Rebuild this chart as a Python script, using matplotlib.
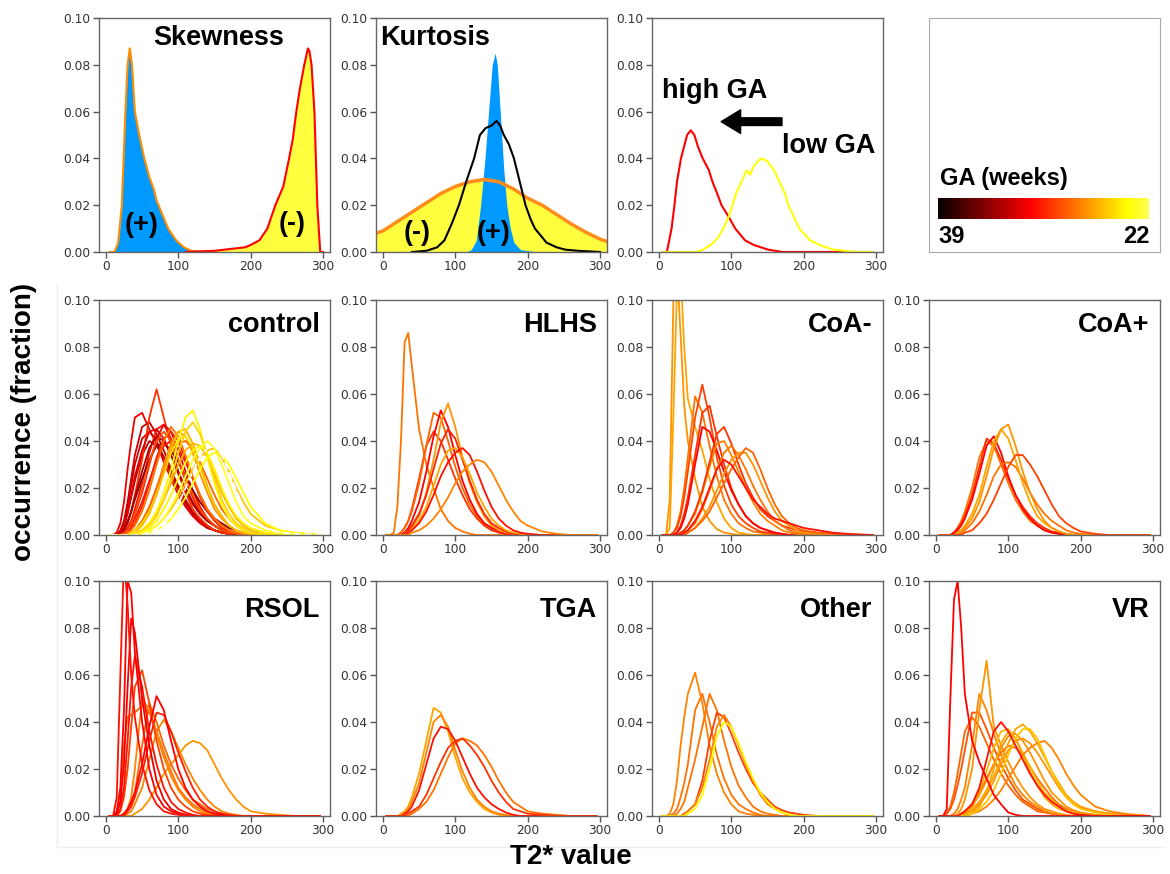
import numpy as np
import matplotlib
matplotlib.use("Agg")
import matplotlib.pyplot as plt
from matplotlib.lines import Line2D
from matplotlib.ticker import FormatStrFormatter

# ---------------- data (occurrence in units of 0.001) ----------------
# top row: illustration panels
skew_pos_x = [5, 12, 17, 22, 27, 30, 33, 36, 40, 46, 53, 60, 66, 70, 78, 86, 97, 108, 118, 130, 150]
skew_pos_y = [0, 0, 4, 20, 60, 80, 87, 80, 60, 50, 40, 32, 27, 22, 16, 10, 5, 2, 0.5, 0.2, 0]
skew_neg_x = [110, 150, 192, 200, 212, 223, 234, 245, 253, 258, 263, 268, 274, 279, 281, 284, 288, 292, 296, 300]
skew_neg_y = [0, 0.5, 2, 3, 5, 10, 20, 28, 40, 48, 60, 70, 80, 87, 86, 80, 60, 20, 0, 0]

kurt_neg_x = [-9.5, 0, 20, 40, 60, 80, 100, 120, 140, 160, 180, 200, 220, 240, 260, 280, 300, 309.5]
kurt_neg_y = [8, 9, 13, 17, 21, 25, 28, 30, 31, 30, 27, 23, 20, 16, 12, 8.5, 5.5, 4.5]
kurt_pos_x = [115, 122, 129, 135, 141, 146, 151, 155, 158, 162, 167, 171, 176, 181, 190, 215]
kurt_pos_y = [0, 1, 5, 20, 40, 60, 80, 85, 80, 60, 35, 20, 10, 4, 1, 0]
kurt_ref_x = [40, 60, 75, 85, 95, 105, 115, 126, 134, 142, 150, 157, 162, 167, 174, 181, 189, 197,
              204, 210, 218, 226, 240, 252, 270, 300]
kurt_ref_y = [0, 0.5, 2, 5, 12, 20, 30, 40, 50, 53, 54, 56, 54, 50, 46, 40, 30, 20, 14, 10, 7, 4, 2, 1, 0.5, 0]

high_ga_x = [5, 11, 17.5, 21.5, 25, 30.5, 39, 44, 49, 54, 60.5, 69, 74, 80.5, 86.5, 96.5, 105.5, 119,
             131, 151, 171, 295]
high_ga_y = [0, 0, 10, 20, 30, 40, 50, 52, 50, 45, 40, 35, 30, 25, 20, 15, 10, 5, 3, 1, 0, 0]
low_ga_x = [5, 51, 61, 71.5, 81.5, 89, 96.5, 101.5, 106.5, 114, 121.5, 126, 131.5, 140.5, 149, 159,
            166.5, 174, 179, 186.5, 194, 209, 221.5, 241.5, 271.5, 295]
low_ga_y = [0, 0, 1, 3, 6, 10, 15, 20, 25, 30, 35, 33, 37, 40, 39, 35, 30, 25, 20, 15, 10, 5, 3, 1, 0, 0]
high_ga_value = 31.5
low_ga_value = 23.5

# group panels: one shared T2* grid, one row of values per subject, GA (weeks) per subject
t2_grid = [5, 10, 15, 20, 25, 30, 35, 40, 50, 60, 70, 80, 90, 100, 110, 120, 130, 140, 150, 160,
           170, 180, 190, 200, 220, 240, 260, 295]

control = [
    [0, 0, 1, 5, 14, 28, 40, 50, 52, 45, 39, 31, 24, 17, 12, 8, 5, 3, 2, 1, 0.5, 0, 0, 0, 0, 0, 0, 0],
    [0, 0, 0, 2, 6, 14, 24, 34, 46, 48, 43, 36, 28, 20, 14, 9, 6, 4, 2, 1, 0.5, 0, 0, 0, 0, 0, 0, 0],
    [0, 0, 0, 1, 5, 12, 21, 30, 41, 44, 40, 33, 26, 19, 13, 9, 6, 3, 2, 1, 0.5, 0, 0, 0, 0, 0, 0, 0],
    [0, 0, 0, 1, 4, 9, 16, 23, 34, 40, 38, 33, 27, 21, 15, 10, 7, 4, 2, 1, 0.5, 0, 0, 0, 0, 0, 0, 0],
    [0, 0, 0, 0, 2, 5, 10, 17, 32, 50, 62, 50, 38, 27, 18, 11, 7, 4, 2, 1, 0.5, 0, 0, 0, 0, 0, 0, 0],
    [0, 0, 0, 0, 1, 3, 6, 11, 22, 35, 45, 47, 41, 32, 23, 16, 10, 6, 4, 2, 1, 0.5, 0, 0, 0, 0, 0, 0],
    [0, 0, 0, 0, 1, 2, 5, 9, 18, 30, 41, 47, 44, 36, 27, 19, 12, 7, 4, 2, 1, 0.5, 0, 0, 0, 0, 0, 0],
    [0, 0, 0, 1, 3, 6, 10, 15, 24, 32, 38, 39, 36, 31, 25, 19, 14, 10, 7, 5, 3, 2, 1, 0.5, 0, 0, 0, 0],
    [0, 0, 0, 1, 4, 10, 17, 25, 36, 44, 45, 41, 34, 26, 19, 13, 9, 6, 4, 2, 1, 0.5, 0, 0, 0, 0, 0, 0],
    [0, 0, 0, 0, 2, 5, 10, 16, 27, 37, 42, 40, 34, 27, 20, 14, 9, 6, 4, 2, 1, 0.5, 0, 0, 0, 0, 0, 0],
    [0, 0, 0, 0, 1, 2, 4, 7, 14, 23, 32, 38, 40, 37, 31, 24, 17, 11, 7, 4, 2, 1, 0.5, 0, 0, 0, 0, 0],
    [0, 0, 0, 0, 0, 1, 3, 5, 12, 22, 33, 41, 44, 40, 32, 24, 16, 10, 6, 3, 1.5, 0.5, 0, 0, 0, 0, 0, 0],
    [0, 0, 0, 0, 1, 2, 5, 9, 19, 31, 40, 44, 40, 32, 24, 17, 11, 7, 4, 2, 1, 0.5, 0, 0, 0, 0, 0, 0],
    [0, 0, 0, 0, 0, 1, 2, 4, 10, 19, 30, 40, 46, 42, 34, 25, 17, 11, 7, 4, 2, 1, 0.5, 0, 0, 0, 0, 0],
    [0, 0, 0, 0, 0, 0, 1, 2, 5, 11, 20, 30, 39, 44, 42, 35, 26, 18, 11, 7, 4, 2, 1, 0.5, 0, 0, 0, 0],
    [0, 0, 0, 0, 0, 0, 1, 2, 6, 12, 20, 28, 35, 39, 40, 37, 31, 24, 17, 11, 7, 4, 2, 1, 0.5, 0, 0, 0],
    [0, 0, 0, 0, 0, 0, 1, 2, 5, 10, 17, 26, 35, 41, 42, 37, 29, 20, 13, 8, 4, 2, 1, 0.5, 0, 0, 0, 0],
    [0, 0, 0, 0, 0, 0, 0, 1, 4, 9, 17, 27, 37, 44, 45, 39, 30, 21, 13, 8, 4, 2, 1, 0.5, 0, 0, 0, 0],
    [0, 0, 0, 0, 0, 0, 0, 1, 2, 5, 9, 15, 22, 30, 36, 39, 38, 33, 26, 18, 12, 7, 4, 2, 1, 0, 0, 0],
    [0, 0, 0, 0, 0, 0, 0, 1, 2, 5, 10, 18, 28, 40, 50, 53, 45, 33, 22, 13, 7, 4, 2, 1, 0, 0, 0, 0],
    [0, 0, 0, 0, 0, 0, 0, 0.5, 2, 4, 8, 15, 24, 35, 44, 48, 43, 34, 24, 15, 9, 5, 3, 1, 0.5, 0, 0, 0],
    [0, 0, 0, 0, 0, 0, 0, 0, 1, 2, 4, 7, 11, 16, 22, 28, 33, 36, 37, 33, 27, 20, 14, 9, 4, 2, 1, 0],
    [0, 0, 0, 0, 0, 0, 0, 0, 1, 3, 6, 11, 17, 24, 31, 36, 38, 35, 28, 20, 13, 8, 5, 3, 1, 0.5, 0, 0],
    [0, 0, 0, 0, 0, 0, 0, 0, 1, 2, 4, 7, 12, 18, 25, 32, 37, 40, 37, 30, 22, 14, 8, 5, 2, 1, 0, 0],
    [0, 0, 0, 0, 0, 0, 0, 0, 0, 1, 2, 4, 7, 11, 16, 22, 28, 33, 35, 34, 30, 24, 18, 12, 5, 2, 1, 0],
    [0, 0, 0, 0, 0, 0, 0, 0, 0, 1, 2, 4, 8, 13, 20, 27, 33, 37, 38, 34, 27, 19, 12, 7, 3, 1, 0.5, 0],
]
control_ga = [32, 33, 33, 33.5, 30, 31, 32, 35, 32.5, 34, 31, 30.5, 29, 28, 27, 28.5, 24.5, 26, 26,
              24, 25, 25.5, 24, 23, 23.5, 18]

hlhs = [
    [0, 0, 1, 12, 40, 82, 86, 72, 45, 30, 20, 11, 6, 3, 1.5, 0.5, 0, 0, 0, 0, 0, 0, 0, 0, 0, 0, 0, 0],
    [0, 0, 0, 0, 1, 3, 6, 11, 24, 38, 44, 40, 32, 24, 17, 11, 7, 4, 2, 1, 0.5, 0, 0, 0, 0, 0, 0, 0],
    [0, 0, 0, 0, 1, 3, 6, 10, 22, 38, 52, 50, 40, 29, 20, 13, 8, 5, 3, 1.5, 0.5, 0, 0, 0, 0, 0, 0, 0],
    [0, 0, 0, 0, 0, 1, 3, 6, 14, 27, 42, 53, 46, 34, 23, 15, 9, 5, 3, 1.5, 0.5, 0, 0, 0, 0, 0, 0, 0],
    [0, 0, 0, 0, 0, 0, 1, 3, 8, 18, 32, 48, 56, 46, 33, 22, 14, 8, 4, 2, 1, 0.5, 0, 0, 0, 0, 0, 0],
    [0, 0, 0, 0, 0, 1, 2, 4, 9, 17, 28, 39, 45, 41, 32, 23, 15, 9, 5, 3, 1.5, 0.5, 0, 0, 0, 0, 0, 0],
    [0, 0, 0, 0, 0, 0, 1, 2, 6, 12, 21, 30, 36, 37, 33, 26, 18, 12, 7, 4, 2, 1, 0.5, 0, 0, 0, 0, 0],
    [0, 0, 0, 0, 0, 0, 1, 2, 5, 10, 17, 25, 31, 35, 37, 34, 27, 19, 12, 7, 4, 2, 1, 0.5, 0, 0, 0, 0],
    [0, 0, 0, 0, 0, 0, 0, 1, 2, 4, 7, 11, 16, 22, 27, 30, 32, 31, 27, 21, 15, 10, 6, 4, 1.5, 0.5, 0, 0],
]
hlhs_ga = [28, 30, 28.5, 31.5, 27, 30.5, 26.5, 31, 27.5]

coa_neg = [
    [0, 0, 15, 100, 115, 85, 55, 40, 24, 12, 6, 2.5, 1, 0.5, 0, 0, 0, 0, 0, 0, 0, 0, 0, 0, 0, 0, 0, 0],
    [0, 0, 3, 50, 105, 112, 80, 58, 46, 36, 24, 14, 7, 3, 1, 0.5, 0, 0, 0, 0, 0, 0, 0, 0, 0, 0, 0, 0],
    [0, 0, 0, 1, 4, 10, 20, 33, 59, 52, 38, 25, 15, 9, 5, 3, 1.5, 1, 0.5, 0, 0, 0, 0, 0, 0, 0, 0, 0],
    [0, 0, 0, 1, 3, 8, 16, 27, 50, 64, 50, 33, 21, 13, 8, 5, 3, 1.5, 1, 0.5, 0, 0, 0, 0, 0, 0, 0, 0],
    [0, 0, 0, 0, 1, 4, 9, 16, 34, 52, 55, 42, 30, 20, 13, 8, 5, 3, 2, 1, 0.5, 0, 0, 0, 0, 0, 0, 0],
    [0, 0, 0, 0, 1, 3, 7, 13, 30, 46, 44, 36, 27, 19, 13, 8, 5, 3, 2, 1, 0.5, 0, 0, 0, 0, 0, 0, 0],
    [0, 0, 0, 0, 0, 1, 2, 4, 9, 18, 29, 39, 40, 34, 27, 20, 14, 9, 6, 4, 2, 1, 0.5, 0, 0, 0, 0, 0],
    [0, 0, 0, 0, 0, 1, 2, 4, 10, 19, 31, 43, 46, 39, 30, 22, 16, 11, 8, 6, 4, 3, 2, 1.5, 1, 0.5, 0, 0],
    [0, 0, 0, 0, 0, 0, 1, 2, 5, 11, 19, 28, 35, 38, 34, 28, 21, 15, 10, 6, 4, 2, 1, 0.5, 0, 0, 0, 0],
    [0, 0, 0, 0, 0, 0, 0, 1, 3, 7, 12, 19, 26, 32, 35, 35, 30, 23, 16, 10, 6, 4, 2, 1, 0.5, 0, 0, 0],
    [0, 0, 0, 0, 0, 0, 0, 1, 3, 6, 10, 16, 22, 28, 33, 37, 35, 28, 20, 13, 8, 5, 3, 2, 1, 0.5, 0, 0],
    [0, 0, 0, 0, 0, 0, 1, 2, 6, 12, 20, 28, 32, 30, 25, 20, 15, 12, 9, 7, 6, 5, 4, 3, 2, 1, 0.5, 0],
]
coa_neg_ga = [27, 26.5, 28, 29.5, 30, 31.5, 27.5, 30, 28, 27, 28.5, 31]

coa_pos = [
    [0, 0, 0, 0, 1, 3, 6, 10, 20, 33, 40, 38, 30, 22, 15, 10, 6, 4, 2, 1, 0.5, 0, 0, 0, 0, 0, 0, 0],
    [0, 0, 0, 0, 1, 3, 5, 8, 17, 29, 41, 39, 32, 24, 17, 12, 8, 5, 3, 1.5, 1, 0.5, 0, 0, 0, 0, 0, 0],
    [0, 0, 0, 0, 1, 2, 4, 7, 15, 26, 38, 42, 35, 25, 17, 11, 7, 4, 2, 1, 0.5, 0, 0, 0, 0, 0, 0, 0],
    [0, 0, 0, 0, 0, 0, 1, 2, 5, 10, 17, 25, 30, 31, 29, 24, 18, 13, 9, 6, 4, 2, 1, 0.5, 0, 0, 0, 0],
    [0, 0, 0, 0, 0, 1, 2, 4, 9, 17, 29, 40, 45, 41, 32, 22, 14, 8, 5, 3, 1.5, 0.5, 0, 0, 0, 0, 0, 0],
    [0, 0, 0, 0, 0, 1, 2, 3, 7, 14, 25, 37, 45, 47, 38, 27, 18, 11, 6, 3, 1.5, 0.5, 0, 0, 0, 0, 0, 0],
    [0, 0, 0, 0, 0, 0, 0, 1, 2, 5, 9, 15, 22, 29, 34, 34, 30, 25, 19, 13, 8, 5, 3, 1.5, 0.5, 0, 0, 0],
]
coa_pos_ga = [28, 30, 31.5, 28, 26.5, 27, 29.5]

rsol = [
    [0, 0, 1, 8, 30, 42, 43, 44, 47, 44, 36, 27, 19, 12, 8, 5, 3, 1.5, 1, 0.5, 0, 0, 0, 0, 0, 0, 0, 0],
    [0, 0, 0, 0, 0, 0, 0, 1, 3, 7, 12, 18, 22, 26, 30, 32, 31, 28, 22, 16, 11, 7, 4, 2, 1, 0.5, 0, 0],
    [0, 0, 0, 0, 0, 1, 2, 5, 12, 24, 36, 41, 36, 29, 22, 16, 11, 7, 4, 2, 1, 0.5, 0, 0, 0, 0, 0, 0],
    [0, 0, 0, 0, 1, 2, 5, 10, 30, 48, 40, 30, 22, 16, 11, 7, 5, 3, 2, 1, 0.5, 0, 0, 0, 0, 0, 0, 0],
    [0, 0, 0, 0, 1, 3, 8, 20, 50, 45, 35, 25, 17, 11, 7, 4, 2, 1, 0.5, 0, 0, 0, 0, 0, 0, 0, 0, 0],
    [0, 0, 0, 2, 8, 20, 38, 55, 62, 48, 32, 20, 12, 7, 4, 2, 1, 0.5, 0, 0, 0, 0, 0, 0, 0, 0, 0, 0],
    [0, 0, 0, 0, 0, 2, 4, 8, 18, 32, 44, 43, 36, 27, 19, 12, 7, 4, 2, 1, 0.5, 0, 0, 0, 0, 0, 0, 0],
    [0, 0, 0, 0, 1, 3, 6, 10, 22, 38, 51, 45, 32, 20, 12, 7, 4, 2, 1, 0.5, 0, 0, 0, 0, 0, 0, 0, 0],
    [0, 0, 0, 3, 12, 32, 55, 68, 55, 36, 22, 12, 6, 3, 1.5, 0.5, 0, 0, 0, 0, 0, 0, 0, 0, 0, 0, 0, 0],
    [0, 0, 1, 6, 22, 55, 84, 78, 50, 30, 15, 7, 3, 1.5, 0.5, 0, 0, 0, 0, 0, 0, 0, 0, 0, 0, 0, 0, 0],
    [0, 0, 2, 12, 45, 100, 95, 70, 40, 20, 9, 4, 2, 1, 0.5, 0, 0, 0, 0, 0, 0, 0, 0, 0, 0, 0, 0, 0],
    [0, 0, 8, 60, 110, 90, 60, 42, 22, 11, 5, 2, 1, 0.5, 0, 0, 0, 0, 0, 0, 0, 0, 0, 0, 0, 0, 0, 0],
]
rsol_ga = [28, 27, 27.5, 28.5, 27.5, 29.5, 30.5, 31.5, 31, 32, 31.5, 31]

tga = [
    [0, 0, 0, 0, 1, 2, 4, 8, 18, 32, 46, 44, 36, 25, 16, 10, 6, 3, 1.5, 0.5, 0, 0, 0, 0, 0, 0, 0, 0],
    [0, 0, 0, 0, 0, 1, 3, 6, 14, 27, 40, 43, 38, 28, 19, 12, 7, 4, 2, 1, 0.5, 0, 0, 0, 0, 0, 0, 0],
    [0, 0, 0, 0, 0, 0, 0, 1, 3, 6, 11, 18, 25, 31, 33, 32, 30, 26, 21, 15, 10, 6, 4, 2, 1, 0.5, 0, 0],
    [0, 0, 0, 0, 0, 1, 2, 4, 11, 22, 33, 38, 37, 32, 25, 18, 12, 8, 5, 3, 1.5, 0.5, 0, 0, 0, 0, 0, 0],
    [0, 0, 0, 0, 0, 0, 1, 2, 4, 9, 16, 23, 29, 32, 33, 30, 26, 21, 15, 10, 6, 3, 2, 1, 0.5, 0, 0, 0],
]
tga_ga = [26.5, 27.5, 28, 31, 30]

other = [
    [0, 0, 1, 5, 15, 30, 42, 52, 61, 48, 30, 18, 10, 5, 2, 1, 0.5, 0, 0, 0, 0, 0, 0, 0, 0, 0, 0, 0],
    [0, 0, 0, 1, 3, 8, 14, 22, 45, 52, 40, 26, 16, 9, 5, 3, 1.5, 0.5, 0, 0, 0, 0, 0, 0, 0, 0, 0, 0],
    [0, 0, 0, 0, 1, 3, 6, 12, 24, 38, 52, 45, 32, 21, 13, 8, 4, 2, 1, 0.5, 0, 0, 0, 0, 0, 0, 0, 0],
    [0, 0, 0, 0, 0, 0, 1, 2, 5, 15, 32, 44, 42, 35, 27, 20, 14, 10, 7, 4, 2.5, 1.5, 1, 0.5, 0, 0, 0, 0],
    [0, 0, 0, 0, 0, 0, 1, 2, 5, 12, 24, 38, 43, 38, 30, 22, 15, 9, 5, 3, 1.5, 0.5, 0, 0, 0, 0, 0, 0],
    [0, 0, 0, 0, 0, 0, 0, 1, 3, 9, 20, 34, 40, 38, 31, 23, 16, 10, 6, 3, 1.5, 0.5, 0, 0, 0, 0, 0, 0],
]
other_ga = [27.5, 28, 28, 29.5, 27.5, 24]

vr = [
    [0, 0, 1, 4, 10, 18, 27, 36, 42, 38, 31, 24, 18, 13, 9, 6, 4, 2, 1.5, 1, 0.5, 0, 0, 0, 0, 0, 0, 0],
    [0, 0, 1, 3, 7, 13, 20, 28, 44, 44, 37, 29, 22, 16, 11, 7, 5, 3, 2, 1, 0.5, 0, 0, 0, 0, 0, 0, 0],
    [0, 0, 0, 0, 1, 3, 7, 12, 30, 52, 45, 35, 26, 19, 13, 9, 6, 4, 2, 1, 0.5, 0, 0, 0, 0, 0, 0, 0],
    [0, 0, 0, 0, 0, 1, 3, 7, 20, 45, 66, 38, 30, 23, 17, 12, 8, 5, 3, 2, 1, 0.5, 0, 0, 0, 0, 0, 0],
    [0, 0, 0, 0, 0, 0, 1, 2, 5, 10, 16, 22, 27, 30, 29, 26, 21, 16, 12, 8, 5, 3, 2, 1, 0.5, 0, 0, 0],
    [0, 0, 0, 0, 0, 0, 1, 2, 5, 11, 19, 29, 36, 37, 33, 27, 21, 15, 10, 7, 4, 2.5, 1.5, 1, 0.5, 0, 0, 0],
    [0, 0, 0, 0, 0, 0, 0, 1, 4, 9, 15, 22, 29, 34, 35, 32, 27, 21, 15, 10, 7, 4, 2.5, 1.5, 0.5, 0, 0, 0],
    [0, 0, 0, 0, 0, 0, 0, 0, 1, 4, 10, 20, 31, 36, 33, 26, 19, 13, 8, 5, 3, 2, 1, 0.5, 0, 0, 0, 0],
    [0, 0, 0, 0, 0, 0, 0, 1, 3, 6, 11, 17, 24, 31, 37, 39, 36, 31, 25, 19, 14, 9, 6, 4, 2, 1, 0.5, 0],
    [0, 0, 0, 0, 0, 0, 0, 1, 2, 5, 9, 15, 22, 28, 32, 33, 31, 27, 22, 17, 12, 8, 5, 3.5, 2, 1, 0.5, 0],
    [0, 0, 0, 0, 0, 0, 0, 0, 1, 2, 4, 7, 11, 16, 21, 26, 29, 31, 32, 29, 24, 18, 13, 9, 4, 2, 1, 0],
    [0, 0, 0, 0, 0, 0, 0, 0, 1, 3, 6, 11, 18, 26, 33, 37, 37, 33, 26, 19, 13, 8, 5, 3, 1.5, 0.5, 0, 0],
    [0, 0, 0, 0, 0, 0, 1, 2, 5, 12, 24, 36, 40, 36, 30, 24, 18, 13, 9, 6, 4, 2, 1, 0.5, 0, 0, 0, 0],
    [0, 0, 3, 50, 92, 100, 80, 52, 32, 23, 16, 9, 5, 1.5, 0.5, 0, 0, 0, 0, 0, 0, 0, 0, 0, 0, 0, 0, 0],
]
vr_ga = [28.5, 29, 27.5, 27, 28, 26, 27, 26.5, 26.5, 27, 27.5, 25.5, 31, 31.5]

groups = [
    ("control", control, control_ga),
    ("HLHS", hlhs, hlhs_ga),
    ("CoA-", coa_neg, coa_neg_ga),
    ("CoA+", coa_pos, coa_pos_ga),
    ("RSOL", rsol, rsol_ga),
    ("TGA", tga, tga_ga),
    ("Other", other, other_ga),
    ("VR", vr, vr_ga),
]

ga_left, ga_right = 39, 22

# ---------------- figure ----------------
W, H = 1170, 874
fig = plt.figure(figsize=(W / 100, H / 100), dpi=100)
bold = dict(family="Liberation Sans", weight="bold")
cmap = plt.get_cmap("hot")
hot_top = 0.83


def px_box(x0, y0, x1, y1):
    return [x0 / W, 1 - y1 / H, (x1 - x0) / W, (y1 - y0) / H]


def ga_color(ga):
    f = (ga_left - ga) / (ga_left - ga_right)
    return cmap(min(max(f * hot_top, 0), 1.0))


def style(ax):
    ax.set_xlim(-9.5, 309.5)
    ax.set_ylim(0, 0.1)
    ax.set_xticks([0, 100, 200, 300])
    ax.set_yticks([0, 0.02, 0.04, 0.06, 0.08, 0.10])
    ax.yaxis.set_major_formatter(FormatStrFormatter("%.2f"))
    ax.tick_params(labelsize=8.8, labelcolor="#333333", color="#555555", length=4, width=1, pad=2)
    for s in ax.spines.values():
        s.set_color("#666666")
        s.set_linewidth(1)


cols = [(99, 330), (376, 607), (652, 883), (929, 1160)]
rows = [(18, 252), (300, 535), (581, 816)]

# faint frame around the group panels
fig.add_artist(Line2D([57 / W, 57 / W], [1 - 283 / H, 1 - 847 / H], color="#eeeeee", lw=1))
fig.add_artist(Line2D([57 / W, 1165 / W], [1 - 847 / H, 1 - 847 / H], color="#eeeeee", lw=1))

# --- Skewness
ax = fig.add_axes(px_box(cols[0][0], rows[0][0], cols[0][1], rows[0][1]))
style(ax)
ax.fill_between(skew_pos_x, np.array(skew_pos_y) / 1000, color="#0099ff", lw=0)
ax.plot(skew_pos_x, np.array(skew_pos_y) / 1000, color="#ff8c00", lw=1.5)
ax.fill_between(skew_neg_x, np.array(skew_neg_y) / 1000, color="#ffff40", lw=0)
ax.plot(skew_neg_x, np.array(skew_neg_y) / 1000, color="#ff0000", lw=1.5)
ax.text(0.52, 0.915, "Skewness", transform=ax.transAxes, ha="center", va="center", fontsize=19.5, **bold)
ax.text(49, 0.0115, "(+)", ha="center", va="center", fontsize=19.5, **bold)
ax.text(257, 0.012, "(-)", ha="center", va="center", fontsize=19.5, **bold)

# --- Kurtosis
ax = fig.add_axes(px_box(cols[1][0], rows[0][0], cols[1][1], rows[0][1]))
style(ax)
ax.fill_between(kurt_neg_x, np.array(kurt_neg_y) / 1000, color="#ffff40", lw=0)
ax.plot(kurt_neg_x, np.array(kurt_neg_y) / 1000, color="#ff8c1a", lw=2.5)
ax.fill_between(kurt_pos_x, np.array(kurt_pos_y) / 1000, color="#0099ff", lw=0)
ax.plot(kurt_ref_x, np.array(kurt_ref_y) / 1000, color="black", lw=1.5)
ax.text(0.02, 0.915, "Kurtosis", transform=ax.transAxes, ha="left", va="center", fontsize=19.5, **bold)
ax.text(47, 0.008, "(-)", ha="center", va="center", fontsize=19.5, **bold)
ax.text(153, 0.008, "(+)", ha="center", va="center", fontsize=19.5, **bold)

# --- high / low GA
ax = fig.add_axes(px_box(cols[2][0], rows[0][0], cols[2][1], rows[0][1]))
style(ax)
ax.plot(high_ga_x, np.array(high_ga_y) / 1000, color=ga_color(high_ga_value), lw=1.5)
ax.plot(low_ga_x, np.array(low_ga_y) / 1000, color=ga_color(low_ga_value), lw=1.5)
ax.text(4, 0.0657, "high GA", ha="left", va="baseline", fontsize=19.5, **bold)
ax.text(170, 0.0422, "low GA", ha="left", va="baseline", fontsize=19.5, **bold)
ax.annotate("", xy=(86, 0.0557), xytext=(170, 0.0557),
            arrowprops=dict(width=5.5, headwidth=17, headlength=14, color="black", shrink=0))

# --- colour bar panel
ax = fig.add_axes(px_box(cols[3][0], rows[0][0], cols[3][1], rows[0][1]))
ax.set_xticks([])
ax.set_yticks([])
for s in ax.spines.values():
    s.set_color("#aaaaaa")
cax = fig.add_axes(px_box(938, 198, 1149, 219))
cax.imshow(np.linspace(0, hot_top, 256)[None, :], cmap=cmap, vmin=0, vmax=1, aspect="auto")
cax.axis("off")
fig.text(940 / W, 1 - 185 / H, "GA (weeks)", ha="left", va="baseline", fontsize=17, **bold)
fig.text(938 / W, 1 - 243 / H, str(ga_left), ha="left", va="baseline", fontsize=17, **bold)
fig.text(1150 / W, 1 - 243 / H, str(ga_right), ha="right", va="baseline", fontsize=17, **bold)

# --- group panels
for i, (name, curves, ages) in enumerate(groups):
    r = rows[1 + i // 4]
    c = cols[i % 4]
    ax = fig.add_axes(px_box(c[0], r[0], c[1], r[1]))
    style(ax)
    for vals, ga in zip(curves, ages):
        ls = (0, (4, 2)) if ga < ga_right else "-"
        ax.plot(t2_grid, np.array(vals) / 1000, color=ga_color(ga), lw=1.3, ls=ls)
    ty = 0.862 if i < 4 else 0.845
    ax.text(0.955, ty, name, transform=ax.transAxes, ha="right", va="baseline", fontsize=19.5, **bold)

fig.text(24 / W, 1 - 422 / H, "occurrence (fraction)", rotation=90, ha="center", va="center",
         fontsize=20, **bold)
fig.text(571 / W, 1 - 857 / H, "T2* value", ha="center", va="center", fontsize=20, **bold)

fig.savefig("out.png", dpi=100)
